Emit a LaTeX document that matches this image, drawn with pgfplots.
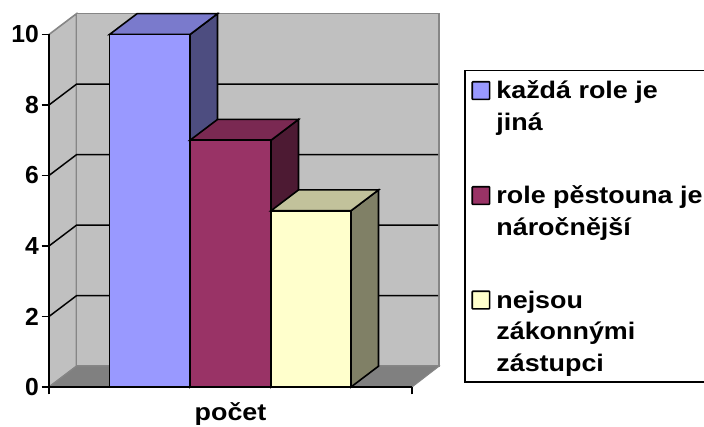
\documentclass[border=0pt]{standalone}
\usepackage{fontspec}
\setmainfont{Liberation Sans}
\newfontfamily\widefont[FakeStretch=1.12]{Liberation Sans}
\usepackage{pgfplots}
\pgfplotsset{compat=1.18}

\definecolor{wall}{HTML}{C0C0C0}
\definecolor{floorc}{HTML}{808080}
\definecolor{edgec}{HTML}{868686}
\definecolor{barA}{HTML}{9999FF}
\definecolor{barAside}{HTML}{4D4D80}
\definecolor{barAtop}{HTML}{7A7ACC}
\definecolor{barB}{HTML}{993366}
\definecolor{barBside}{HTML}{4D1A33}
\definecolor{barBtop}{HTML}{7A2952}
\definecolor{barC}{HTML}{FFFFCC}
\definecolor{barCside}{HTML}{808066}
\definecolor{barCtop}{HTML}{C2C29B}

\pgfplotsset{
  face/.style={forget plot, draw=black, line width=1.2pt, line join=miter},
  gridln/.style={forget plot, draw=black, line width=1.1pt},
  swatch/.style={legend image code/.code={
    \draw[fill=#1, draw=black, line width=1.2pt, rounded corners=0.5pt] (0pt,-0.6pt) rectangle (13pt,12.6pt);}},
}
\newcommand{\entry}[1]{\hspace*{2.5pt}\parbox[t]{165pt}{#1}}

\begin{document}
\begin{tikzpicture}
\useasboundingbox (-36.75pt,-30pt) rectangle (491.25pt,290.25pt);
\clip (-36.75pt,-30pt) rectangle (491.25pt,290.25pt);
\begin{axis}[
  at={(0pt,0pt)}, anchor=south west,
  scale only axis,
  width=272.25pt, height=264.375pt,
  xmin=49, xmax=412,
  ymin=0, ymax=10,
  clip=false,
  axis lines=left,
  axis line style={-, black, line width=1.2pt},
  axis on top,
  xtick={49,412}, xticklabels={},
  ytick={0,2,4,6,8,10},
  tick align=outside,
  tick style={black, line width=1.2pt},
  major tick length=5.5pt,
  yticklabel style={font=\bfseries\fontsize{18.5}{20}\selectfont, /pgf/number format/assume math mode=true, inner sep=0pt, xshift=-2pt},
  xlabel={po\v{c}et},
  xlabel style={font=\widefont\bfseries\fontsize{18}{20}\selectfont, at={(axis cs:230.5,0)}, anchor=base, yshift=-25.5pt},
  legend style={
    at={(axis cs:464,9.0)}, anchor=north west,
    draw=black, line width=1.2pt, fill=white,
    font=\widefont\bfseries\fontsize{18}{23.6}\selectfont,
    nodes={inner sep=2pt, text depth=},
    cells={anchor=base west},
    row sep=34pt, inner xsep=5pt, inner ysep=2.4pt,
  },
]
% walls and floor, depth is 27.5 along x and 0.59 along y
\addplot[face, fill=wall, draw=edgec] coordinates {(49,0)(76.5,0.59)(76.5,10.59)(49,10)} --cycle;
\addplot[face, fill=wall, draw=edgec] coordinates {(76.5,0.59)(439,0.59)(439,10.59)(76.5,10.59)} --cycle;
\addplot[face, fill=floorc, draw=edgec, line width=0.8pt] coordinates {(49,0)(412,0)(439,0.59)(76.5,0.59)} --cycle;

% gridlines
\addplot[gridln] coordinates {(49,2)(76.5,2.59)(438,2.59)};
\addplot[gridln] coordinates {(49,4)(76.5,4.59)(438,4.59)};
\addplot[gridln] coordinates {(49,6)(76.5,6.59)(438,6.59)};
\addplot[gridln] coordinates {(49,8)(76.5,8.59)(438,8.59)};

% kazda role je jina = 10
\addplot[face, fill=barAside] coordinates {(190,0)(217.5,0.59)(217.5,10.59)(190,10)} --cycle;
\addplot[face, fill=barAtop] coordinates {(109.5,10)(190,10)(217.5,10.59)(137,10.59)} --cycle;
\addplot[face, fill=barA] coordinates {(109.5,0)(190,0)(190,10)(109.5,10)} --cycle;

% role pestouna je narocnejsi = 7
\addplot[face, fill=barBside] coordinates {(271,0)(298.5,0.59)(298.5,7.59)(271,7)} --cycle;
\addplot[face, fill=barBtop] coordinates {(190,7)(271,7)(298.5,7.59)(217.5,7.59)} --cycle;
\addplot[face, fill=barB] coordinates {(190,0)(271,0)(271,7)(190,7)} --cycle;

% nejsou zakonnymi zastupci = 5
\addplot[face, fill=barCside] coordinates {(351,0)(378.5,0.59)(378.5,5.59)(351,5)} --cycle;
\addplot[face, fill=barCtop] coordinates {(271,5)(351,5)(378.5,5.59)(298.5,5.59)} --cycle;
\addplot[face, fill=barC] coordinates {(271,0)(351,0)(351,5)(271,5)} --cycle;

\addlegendimage{swatch=barA}
\addlegendentry{\entry{\rule{0pt}{16.6pt}ka\v{z}d\'a role je\\ jin\'a}}
\addlegendimage{swatch=barB}
\addlegendentry{\entry{role p\v{e}stouna je\\ n\'aro\v{c}n\v{e}j\v{s}\'i}}
\addlegendimage{swatch=barC}
\addlegendentry{\entry{nejsou\\ z\'akonn\'ymi\\ z\'astupci}}
\end{axis}
\end{tikzpicture}
\end{document}
